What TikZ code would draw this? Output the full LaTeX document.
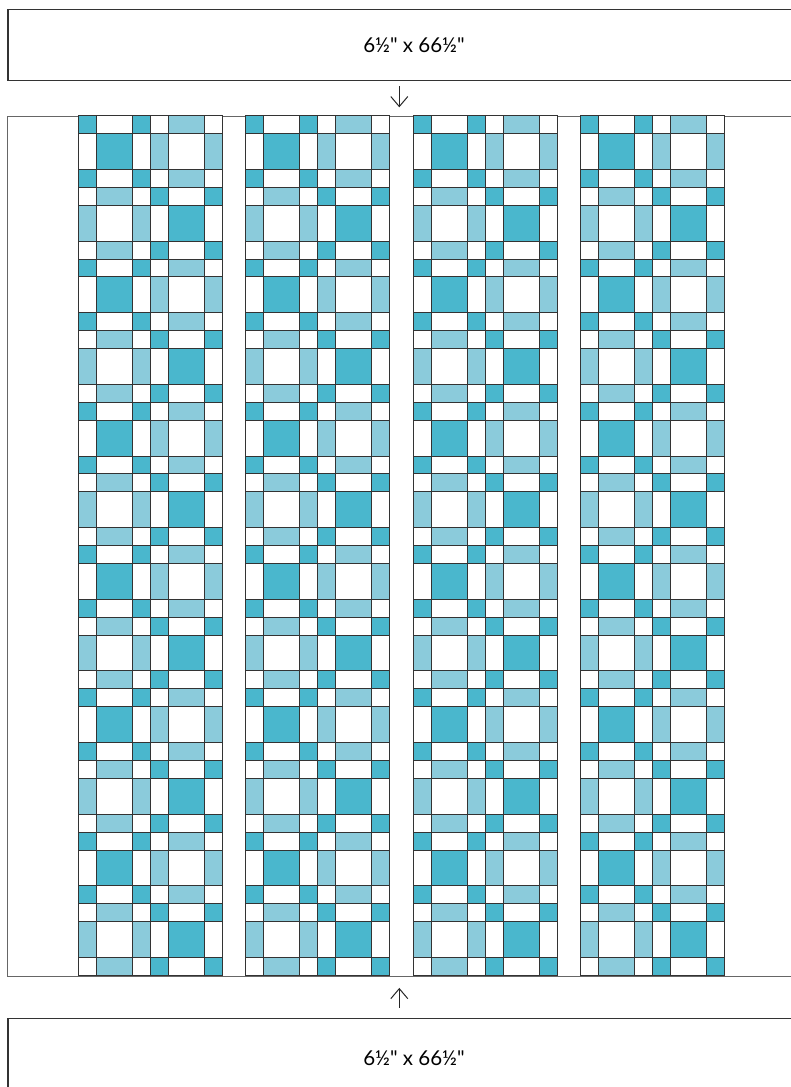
\documentclass[tikz,border=0pt]{standalone}
\usepackage{fontspec}
\setmainfont{Lato}[Ligatures=TeXOff]
\usetikzlibrary{arrows.meta,positioning}

\definecolor{tealdk}{HTML}{4AB7CD}
\definecolor{teallt}{HTML}{8BCBDB}

\def\xu{18}
\def\yu{17.91}

% one block, dark corners and dark centre
\newcommand{\blockA}[2]{%
  \begin{scope}[shift={(#1,#2)}]
    \foreach \cx/\cy/\cw/\ch in {0/0/1/1,3/0/1/1,0/3/1/1,3/3/1/1,1/1/2/2}
      \draw[dkpatch] (\cx*\xu,\cy*\yu) rectangle ++(\cw*\xu,\ch*\yu);
    \foreach \cx/\cy/\cw/\ch in {1/0/2/1,0/1/1/2,3/1/1/2,1/3/2/1}
      \draw[whpatch] (\cx*\xu,\cy*\yu) rectangle ++(\cw*\xu,\ch*\yu);
  \end{scope}}

% one block, light sides
\newcommand{\blockB}[2]{%
  \begin{scope}[shift={(#1,#2)}]
    \foreach \cx/\cy/\cw/\ch in {1/0/2/1,0/1/1/2,3/1/1/2,1/3/2/1}
      \draw[ltpatch] (\cx*\xu,\cy*\yu) rectangle ++(\cw*\xu,\ch*\yu);
    \foreach \cx/\cy/\cw/\ch in {0/0/1/1,3/0/1/1,0/3/1/1,3/3/1/1,1/1/2/2}
      \draw[whpatch] (\cx*\xu,\cy*\yu) rectangle ++(\cw*\xu,\ch*\yu);
  \end{scope}}

\begin{document}
\begin{tikzpicture}[
    x=1pt, y=-1pt,
    border/.style={draw=black!80, line width=1.3pt, fill=white, inner sep=0pt,
      anchor=north west, font=\fontsize{20.5}{24}\selectfont},
    quiltframe/.style={draw=black!60, line width=1.2pt, fill=white, inner sep=0pt,
      anchor=north west},
    dkpatch/.style={fill=tealdk, draw=black!80, line width=0.9pt},
    ltpatch/.style={fill=teallt, draw=black!80, line width=0.9pt},
    whpatch/.style={fill=white, draw=black!80, line width=0.9pt},
    arr/.style={draw=black!85, line width=1pt, -{Straight Barb[length=10pt,width=17pt]}}
]
    \useasboundingbox (0,0) rectangle (791,1087);

    % Borders and centre
    \node[border, minimum width=812pt, minimum height=71pt] (topbox) at (7.3,9) {6½" x 66½"};
    \node[quiltframe, minimum width=810pt, minimum height=859.8pt] (quilt) at (6.7,115.7) {};
    \node[border, minimum width=812pt, minimum height=80pt] (botbox) at (7.3,1017.5) {6½" x 66½"};

    % Blocks
    \foreach \g in {0,...,3}
      \foreach \r in {0,...,11}
        \foreach \c in {0,1} {
          \pgfmathsetmacro{\bx}{78.3+\g*167.5+\c*4*\xu}
          \pgfmathsetmacro{\by}{115.7+\r*4*\yu}
          \pgfmathparse{int(mod(\r+\c,2))}
          \ifnum\pgfmathresult=0 \blockA{\bx}{\by}\else\blockB{\bx}{\by}\fi
        }

    % Arrows
    \coordinate (arrowx) at (399.3,0);
    \draw[arr, shorten <=4.7pt, shorten >=8.4pt] (topbox.south -| arrowx) -- (quilt.north -| arrowx);
    \draw[arr, shorten <=9.8pt, shorten >=11.2pt] (botbox.north -| arrowx) -- (quilt.south -| arrowx);

\end{tikzpicture}
\end{document}
